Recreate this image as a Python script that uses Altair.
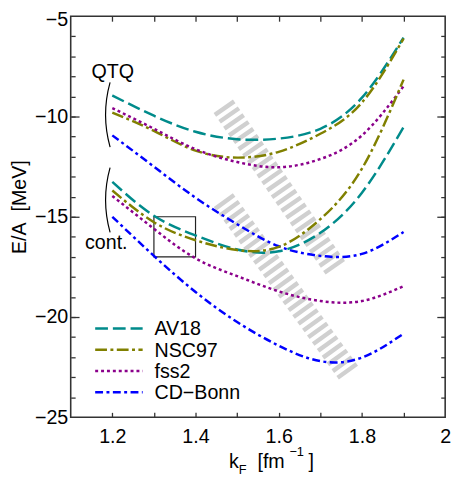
import altair as alt
import pandas as pd

# ---------------- data ----------------
k_F = [1.2, 1.3, 1.4, 1.5, 1.6, 1.7, 1.8, 1.9]

# QTQ curves
av18_qtq = [-8.95, -9.96, -10.76, -11.13, -11.10, -10.61, -9.06, -6.06]
nsc97_qtq = [-9.80, -10.72, -11.70, -12.05, -11.76, -10.86, -9.30, -6.11]
fss2_qtq = [-9.58, -10.61, -11.63, -12.27, -12.53, -12.12, -10.94, -8.49]
cdbonn_qtq = [-10.94, -12.50, -14.05, -15.37, -16.47, -16.95, -16.85, -15.76]

# continuous-choice curves
av18_cont = [-13.26, -14.95, -15.93, -16.63, -16.72, -15.80, -13.80, -10.53]
nsc97_cont = [-13.69, -15.27, -16.17, -16.66, -16.50, -15.12, -12.60, -8.16]
fss2_cont = [-13.96, -15.60, -17.07, -17.96, -18.72, -19.20, -19.20, -18.46]
cdbonn_cont = [-15.00, -16.95, -18.75, -20.25, -21.43, -22.20, -22.02, -20.83]

models = ["AV18", "NSC97", "fss2", "CD\u2212Bonn"]
colors = ["#008b8b", "#808000", "#8b008b", "#0000ff"]
dashes = [[13, 5], [12, 3.5, 3, 3.5], [3, 3], [8, 3.5, 3, 3.5]]

# saturation bands (start / end of band centre line)
band_id = ["upper", "lower"]
band_k_start = [1.4667, 1.4667]
band_e_start = [-9.49, -14.17]
band_k_end = [1.7368, 1.7675]
band_e_end = [-17.57, -22.77]

# framed box
box_k = [1.3, 1.4]
box_e = [-15.0, -17.0]

x_domain = [1.1, 2.0]
y_domain = [-25, -5]
x_label_vals = [1.2, 1.4, 1.6, 1.8, 2.0]
x_tick_vals = [1.2, 1.3, 1.4, 1.5, 1.6, 1.7, 1.8, 1.9]
y_label_vals = [-25, -20, -15, -10]
y_top_label = [-5]
y_major_vals = [-20, -15, -10]
y_minor_vals = list(range(-24, -5))

# ---------------- tables ----------------
series = [
    ("AV18", "QTQ", av18_qtq), ("NSC97", "QTQ", nsc97_qtq),
    ("fss2", "QTQ", fss2_qtq), ("CD\u2212Bonn", "QTQ", cdbonn_qtq),
    ("AV18", "cont", av18_cont), ("NSC97", "cont", nsc97_cont),
    ("fss2", "cont", fss2_cont), ("CD\u2212Bonn", "cont", cdbonn_cont),
]
rows = []
for m, g, vals in series:
    for k, e in zip(k_F, vals):
        rows.append({"k": k, "e": e, "model": m, "group": m + g})
curves = pd.DataFrame(rows)

band_rows = []
for b, k0, e0, k1, e1 in zip(band_id, band_k_start, band_e_start, band_k_end, band_e_end):
    band_rows.append({"k": k0, "e": e0, "band": b})
    band_rows.append({"k": k1, "e": e1, "band": b})
bands = pd.DataFrame(band_rows)

box = pd.DataFrame({"k": [box_k[0]], "k2": [box_k[1]], "e": [box_e[0]], "e2": [box_e[1]]})

W, H = 381, 408
FONT = "Liberation Sans"
FS = 20
TICK = "#333333"

legend_y0, legend_dy = 317.7, 21.6
legend_df = pd.DataFrame({"model": models,
                          "ly": [legend_y0 + i * legend_dy for i in range(len(models))]})

xs = alt.Scale(domain=x_domain, nice=False, zero=False)
ys = alt.Scale(domain=y_domain, nice=False, zero=False)
color = alt.Color("model:N", scale=alt.Scale(domain=models, range=colors), legend=None)
dash = alt.StrokeDash("model:N", scale=alt.Scale(domain=models, range=dashes), legend=None)


def label_axis(orient, values, pad, offset_lbl=0):
    return alt.Axis(orient=orient, values=values, format="~g", ticks=False, tickSize=0,
                    domain=False, grid=False, labelPadding=pad, labelFontSize=FS, labelFont=FONT,
                    labelColor="black", labelFlush=False, labelOverlap=False, labelOffset=offset_lbl,
                    title=None)


band_layer = alt.Chart(bands).mark_line(strokeWidth=24, strokeDash=[4.5, 4], color="#d0d0d0",
                                         strokeCap="butt").encode(
    x=alt.X("k:Q", scale=xs, axis=label_axis("bottom", x_label_vals, 10)),
    y=alt.Y("e:Q", scale=ys, axis=label_axis("left", y_label_vals, 3)),
    detail="band:N",
)

box_layer = alt.Chart(box).mark_rect(fillOpacity=0, stroke="#222222", strokeWidth=1.2).encode(
    x=alt.X("k:Q", scale=xs, axis=None), x2="k2:Q",
    y=alt.Y("e:Q", scale=ys, axis=None), y2="e2:Q",
)

lines = alt.Chart(curves).mark_line(strokeWidth=2.5, interpolate="natural").encode(
    x=alt.X("k:Q", scale=xs, axis=None),
    y=alt.Y("e:Q", scale=ys, axis=None),
    color=color, strokeDash=dash, detail="group:N",
)

anchor = pd.DataFrame({"k": [1.5], "e": [-15.0]})


def tick_layer(xaxis=None, yaxis=None):
    return alt.Chart(anchor).mark_point(opacity=0).encode(
        x=alt.X("k:Q", scale=xs, axis=xaxis), y=alt.Y("e:Q", scale=ys, axis=yaxis))


def tick_axis(orient, offset, values, size):
    return alt.Axis(orient=orient, offset=offset, values=values, tickSize=size, tickWidth=1.3,
                    tickColor=TICK, domain=False, labels=False, grid=False, title=None)


tick_layers = [
    tick_layer(yaxis=tick_axis("right", -W, y_minor_vals, 4.5)),
    tick_layer(yaxis=tick_axis("right", -W, y_major_vals, 8.5)),
    tick_layer(yaxis=tick_axis("left", -W, y_minor_vals, 4.5)),
    tick_layer(yaxis=tick_axis("left", -W, y_major_vals, 8.5)),
    tick_layer(xaxis=tick_axis("top", -H, x_tick_vals, 5)),
    tick_layer(xaxis=tick_axis("bottom", -H, x_tick_vals, 5)),
    # top "-5" label nudged down so it stays inside the canvas
    tick_layer(yaxis=label_axis("left", y_top_label, 3, 3)),
]

one = pd.DataFrame({"a": [0]})


def label(text, x, y, size=FS, align="left", baseline="alphabetic", angle=0):
    return alt.Chart(one).mark_text(text=text, font=FONT, fontSize=size, color="black",
                                    align=align, baseline=baseline, angle=angle).encode(
        x=alt.value(x), y=alt.value(y))


texts = [
    label("E/A\u00a0\u00a0[MeV]", -45.0, 194.2, align="center", angle=270),
    label("k", 161.0, 460.0),
    label("F", 171.0, 466.2, size=13),
    label("[fm", 190.0, 460.0),
    label("\u22121", 222.5, 447.0, size=13),
    label("]", 242.0, 460.0),
    label("QTQ", 42.7, 62.7, align="center"),
    label("cont.", 36.2, 236.7, align="center"),
]


def bracket(cy):
    return alt.Chart(one).mark_arc(
        fillOpacity=0, stroke="black", strokeWidth=1.1, radius=122, radius2=121.9,
        theta=4.443, theta2=4.981).encode(x=alt.value(157.5), y=alt.value(cy))


brackets = [bracket(100.2), bracket(186.9)]

legend_lines = alt.Chart(legend_df).mark_rule(strokeWidth=2.5).encode(
    x=alt.value(24.9), x2=alt.value(73.2),
    y=alt.Y("ly:Q", scale=None, axis=None),
    color=color, strokeDash=dash,
)
legend_text = alt.Chart(legend_df).mark_text(font=FONT, fontSize=FS, align="left",
                                              baseline="middle", color="black", dy=1).encode(
    x=alt.value(85.2), y=alt.Y("ly:Q", scale=None, axis=None), text="model:N")

chart = alt.layer(
    band_layer, *tick_layers, box_layer, lines, *brackets, legend_lines, legend_text, *texts
).properties(
    width=W, height=H,
    autosize=alt.AutoSizeParams(type="none"),
    padding={"left": 63.8, "top": 4.3, "right": 10, "bottom": 60},
).configure_view(stroke="#333333", strokeWidth=1.6)

chart.save("out.html", embed_options={"renderer": "svg", "actions": False})
